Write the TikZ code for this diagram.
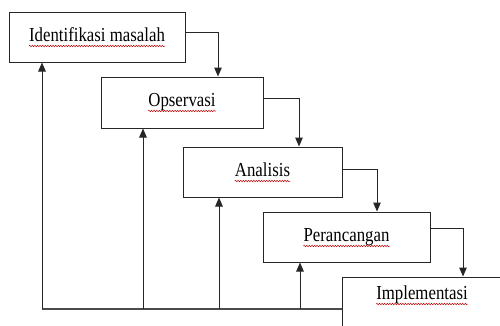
\documentclass[tikz,border=0pt]{standalone}
\usepackage{fontspec}
\setmainfont{Liberation Serif}
\usetikzlibrary{arrows.meta,decorations.pathmorphing}
\newcommand{\lbltext}[1]{\scalebox{1}[1.18]{\fontsize{16.8}{18}\selectfont #1}}
\tikzset{
  box/.style={draw=black!85, line width=1pt, rectangle, inner sep=0pt},
  lbl/.style={inner sep=0pt, anchor=base},
  arr/.style={draw=black!85, line width=1pt, -{Triangle[length=9pt,width=7.5pt]}},
  fline/.style={draw=black!70, line width=1.1pt},
  wavy/.style={draw=red!75!black, line width=0.5pt, decorate,
     decoration={snake, amplitude=0.7pt, segment length=2.6pt}}
}
\begin{document}
\begin{tikzpicture}[x=1pt,y=-1pt]
\useasboundingbox (0,0) rectangle (500,325);
\fill[white] (0,0) rectangle (500,325);
\clip (0,0) rectangle (500,325);
% boxes
\node[box, minimum width=176pt, minimum height=50pt] (b1) at (97,37) {};
\node[box, minimum width=162pt, minimum height=51pt] (b2) at (182,102.5) {};
\node[box, minimum width=159pt, minimum height=50pt] (b3) at (262.5,172) {};
\node[box, minimum width=167pt, minimum height=50pt] (b4) at (346.5,237) {};
\node[box, minimum width=180pt, minimum height=70pt] (b5) at (432,312) {};
% labels
\node[lbl] (t1) at (97,41) {\lbltext{Identifikasi masalah}};
\node[lbl] (t2) at (182,106) {\lbltext{Opservasi}};
\node[lbl] (t3) at (262.5,176) {\lbltext{Analisis}};
\node[lbl] (t4) at (346.5,241) {\lbltext{Perancangan}};
\node[lbl] (t5) at (422,299) {\lbltext{Implementasi}};
% spellcheck underlines
\foreach \t in {t1,t2,t3,t4,t5}{
  \draw[wavy] ([yshift=-5pt]\t.base west) -- ([yshift=-5pt]\t.base east);
}
% forward arrows
\draw[arr] ([yshift=5pt]b1.east) -| ([xshift=36pt]b2.north);
\draw[arr] ([yshift=4.5pt]b2.east) -| ([xshift=36.5pt]b3.north);
\draw[arr] ([yshift=3pt]b3.east) -| ([xshift=30.5pt]b4.north);
\draw[arr] ([yshift=9pt]b4.east) -| ([xshift=31pt]b5.north);
% feedback
\coordinate (f1) at (42,309);
\coordinate (f2) at (143,309);
\coordinate (f3) at (219,309);
\coordinate (f4) at (300,309);
\draw[fline] (f1) -- (f1 -| b5.west);
\draw[arr] (f1) -- (f1 |- b1.south);
\draw[arr] (f2) -- (f2 |- b2.south);
\draw[arr] (f3) -- (f3 |- b3.south);
\draw[arr] (f4) -- (f4 |- b4.south);
\end{tikzpicture}
\end{document}
